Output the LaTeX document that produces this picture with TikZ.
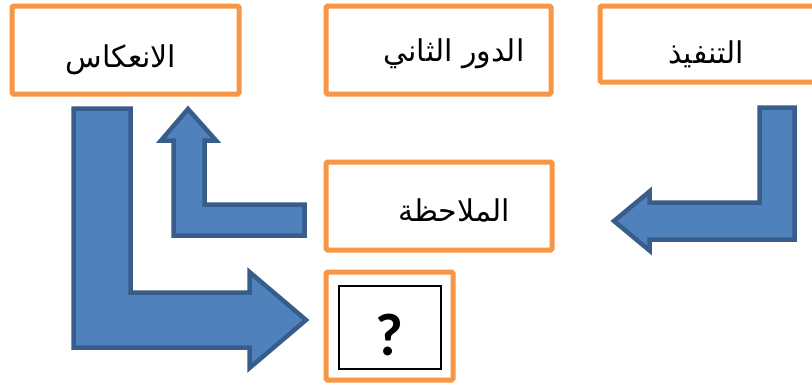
\documentclass[tikz,border=0pt]{standalone}
\usepackage{fontspec}
\newfontfamily\arabicfont[Script=Arabic]{DejaVu Sans}
\newfontfamily\qfont{Carlito}
\TeXXeTstate=1
\definecolor{boxorange}{HTML}{F79646}
\definecolor{arrowfill}{HTML}{4F81BD}
\definecolor{arrowline}{HTML}{385D8A}
\begin{document}
\begin{tikzpicture}[x=1pt,y=-1pt,
  box/.style={draw=boxorange, line width=5pt, rounded corners=1.5pt, fill=white, inner sep=0pt, outer sep=0pt},
  blockarrow/.style={fill=arrowfill, draw=arrowline, line width=4.5pt, line join=miter},
  ar/.style={font=\arabicfont\fontsize{30}{34}\selectfont, inner sep=0pt}]
\useasboundingbox (0,0) rectangle (812,383);
\clip (0,0) rectangle (812,383);
\fill[white] (0,0) rectangle (812,383);
% boxes
\node[box, minimum width=227pt, minimum height=88pt] (refl) at (125.5,50) {};
\node[box, minimum width=225pt, minimum height=88pt] (second) at (438.5,50) {};
\node[box, minimum width=230pt, minimum height=76pt] (exec) at (715,44) {};
\node[box, minimum width=226pt, minimum height=88pt] (obs) at (439,206) {};
\node[box, minimum width=127pt, minimum height=108pt] (q) at (389.5,326) {};
\node[draw=black, line width=1.2pt, minimum width=102pt, minimum height=83pt, inner sep=0pt] (qin) at (390,327.5) {};
% labels
\node[ar] (treflt) at (121,60) {\beginR الانعكاس\endR};
\node[ar] (tsecond) at (454,54) {\beginR الدور الثاني\endR};
\node[ar] (texec) at (706,54) {\beginR التنفيذ\endR};
\node[ar] (tobs) at (454,210) {\beginR الملاحظة\endR};
\node[font=\qfont\bfseries\fontsize{60}{64}\selectfont, inner sep=0pt] (tq) at (389,335) {?};
% block arrows
\draw[blockarrow] (73.5,108.5) -- (130.5,108.5) -- (130.5,292.5) -- (249.5,292.5) -- (249.5,272) -- (306,320) -- (249.5,368) -- (249.5,347.5) -- (73.5,347.5) -- cycle;
\draw[blockarrow] (188,109) -- (216,140.5) -- (204.5,140.5) -- (204.5,204.5) -- (304.5,204.5) -- (304.5,235.5) -- (173.5,235.5) -- (173.5,140.5) -- (161,140.5) -- cycle;
\draw[blockarrow] (614,221) -- (649.5,191.5) -- (649.5,202.5) -- (759.5,202.5) -- (759.5,107.5) -- (794.5,107.5) -- (794.5,239.5) -- (649.5,239.5) -- (649.5,250.5) -- cycle;
\end{tikzpicture}
\end{document}
